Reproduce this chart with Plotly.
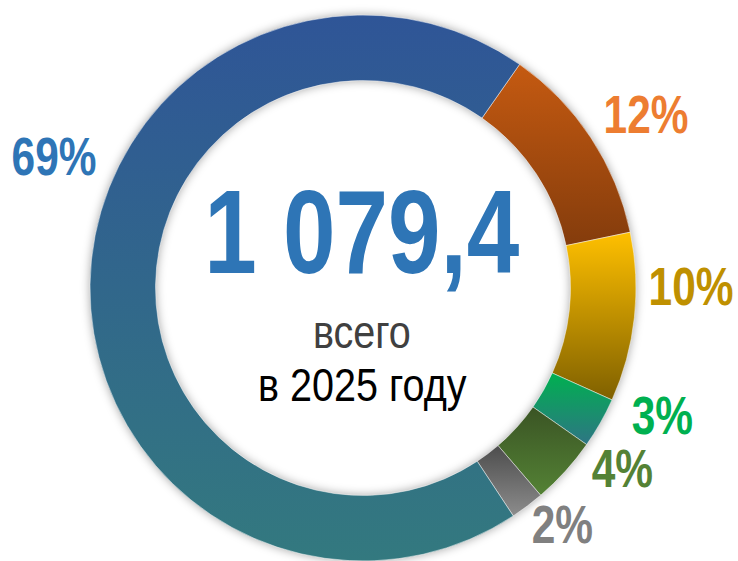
import plotly.graph_objects as go
import json

# Data
categories = ["Категория 2", "Категория 3", "Категория 4", "Категория 5", "Категория 6", "Категория 1"]
shares = [12, 10, 3, 4, 2, 69]
label_texts = ["12%", "10%", "3%", "4%", "2%", "69%"]
total_text = "1 079,4"
subtitle_lines = ["всего", "в 2025 году"]

slice_colors = ["#A84C10", "#C29200", "#17946A", "#486E2E", "#737373", "#30628E"]
gradient_top = ["#C55A11", "#FFC000", "#00B050", "#3A5424", "#4D4D4D", "#2F5597"]
gradient_bottom = ["#843C0C", "#7F6000", "#2E7584", "#548235", "#8C8C8C", "#33797F"]
label_colors = ["#ED7D31", "#BF9000", "#00B050", "#548235", "#808080", "#2E75B6"]
# label centres in pixels (x, y from top)
label_pos = [(646, 114), (691, 286), (662, 415), (622, 468), (562, 524), (54, 157)]

W, H = 738, 561
FONT = "Liberation Sans, Arial, sans-serif"

cx, cy, R = 363, 288, 273
fig = go.Figure()
fig.add_trace(go.Pie(
    labels=categories, values=shares, sort=False, direction="clockwise",
    rotation=35, hole=0.76, textinfo="none", hoverinfo="label+percent",
    marker=dict(colors=slice_colors, line=dict(color="rgba(255,255,255,0.6)", width=0.8)),
    domain=dict(x=[(cx - R) / W, (cx + R) / W], y=[max(0, (H - cy - R) / H), (H - cy + R) / H]),
    showlegend=False,
))

anns = []
for t, c, (px, py) in zip(label_texts, label_colors, label_pos):
    anns.append(dict(x=px / W, y=1 - py / H, xref="paper", yref="paper", text=t,
                     showarrow=False, xanchor="center", yanchor="middle",
                     font=dict(family=FONT, size=53, color=c, weight="bold")))
anns.append(dict(x=362 / W, y=1 - 232 / H, xref="paper", yref="paper", text=total_text,
                 showarrow=False, xanchor="center", yanchor="middle",
                 font=dict(family=FONT, size=118, color="#2E75B6", weight="bold")))
anns.append(dict(x=362 / W, y=1 - 332 / H, xref="paper", yref="paper", text=subtitle_lines[0],
                 showarrow=False, xanchor="center", yanchor="middle",
                 font=dict(family=FONT, size=46, color="#404040")))
anns.append(dict(x=362 / W, y=1 - 385 / H, xref="paper", yref="paper", text=subtitle_lines[1],
                 showarrow=False, xanchor="center", yanchor="middle",
                 font=dict(family=FONT, size=46, color="#000000")))

fig.update_layout(width=W, height=H, margin=dict(l=0, r=0, t=0, b=0),
                  paper_bgcolor="white", plot_bgcolor="white", annotations=anns)

post = """
(function(){
  var tops = %s, bots = %s;
  var st = document.createElement('style');
  st.textContent = 'html,body{margin:0;padding:0;}'
    + '.annotation-text{transform-box:fill-box;transform-origin:center;transform:scaleX(0.8);}'
    + 'g.annotation[data-index="7"] .annotation-text, g.annotation[data-index="8"] .annotation-text{transform:scaleX(0.86);}'
    + '.pielayer{filter:drop-shadow(0px 0px 5px rgba(0,0,0,0.35));}';
  document.head.appendChild(st);
  var gd = document.getElementById('{plot_id}');
  var svg = gd.querySelector('svg.main-svg');
  var ns = 'http://www.w3.org/2000/svg';
  var defs = svg.querySelector('defs') || svg.insertBefore(document.createElementNS(ns,'defs'), svg.firstChild);
  for (var i = 0; i < tops.length; i++) {
    var lg = document.createElementNS(ns, 'linearGradient');
    lg.setAttribute('id', 'slicegrad' + i);
    lg.setAttribute('x1', '0'); lg.setAttribute('y1', '0');
    lg.setAttribute('x2', '0'); lg.setAttribute('y2', '1');
    var s0 = document.createElementNS(ns, 'stop'); s0.setAttribute('offset', '0'); s0.setAttribute('stop-color', tops[i]);
    var s1 = document.createElementNS(ns, 'stop'); s1.setAttribute('offset', '1'); s1.setAttribute('stop-color', bots[i]);
    lg.appendChild(s0); lg.appendChild(s1); defs.appendChild(lg);
  }
  var paths = gd.querySelectorAll('g.slice path.surface');
  paths.forEach(function(p, i){ if (i < tops.length) p.style.fill = 'url(#slicegrad' + i + ')'; });
})();
""" % (json.dumps(gradient_top), json.dumps(gradient_bottom))

fig.write_html("out.html", post_script=post, config={"displayModeBar": False})
